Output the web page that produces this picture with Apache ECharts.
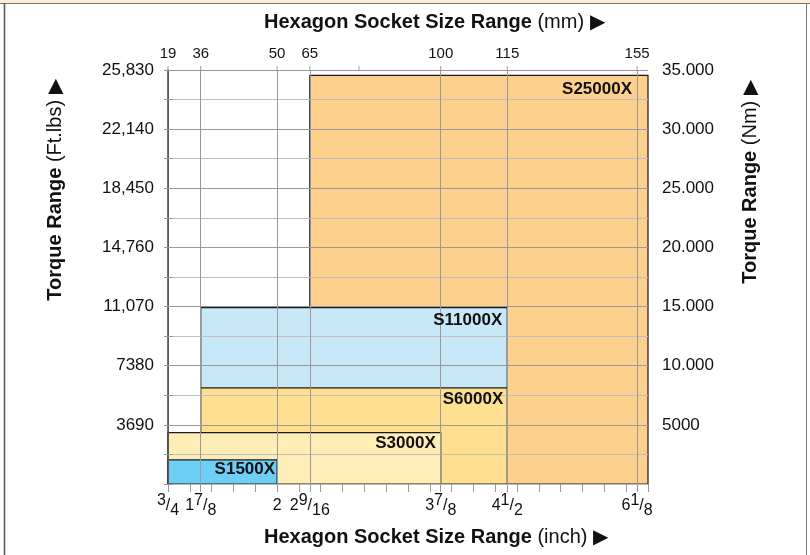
<!DOCTYPE html>
<html>
<head>
<meta charset="utf-8">
<style>
  html, body { margin: 0; padding: 0; background: #fff; }
  #chart { width: 810px; height: 555px; }
</style>
<script src="https://cdn.jsdelivr.net/npm/echarts@6/dist/echarts.min.js"></script>
</head>
<body>
<div id="chart"></div>
<script>
// socket sizes, labelled on the bottom (inch) and top (mm) axes
const sizesInch = ['3/4', '1 7/8', '2', '2 9/16', '3 7/8', '4 1/2', '6 1/8'];
const sizesMm = ['19', '36', '50', '65', '100', '115', '155'];
// where each size sits on the (non-linear) drawn size scale, 0..22
const sizePos = [0, 1.5, 5, 6.5, 12.5, 15.55, 21.5];
const topTickPos = [0, 1.5, 5, 6.5, 8.75, 12.5, 15.55, 21.5];
const sizeMax = 22;

// torque ticks
const ftLbTicks = ['3690', '7380', '11,070', '14,760', '18,450', '22,140', '25,830'];
const nmTicks = ['5000', '10.000', '15.000', '20.000', '25.000', '30.000', '35.000'];
const torqueStep = 3690;
const torqueMax = 25830;

// tool ranges (drawn back to front)
const models = ['S25000X', 'S11000X', 'S6000X', 'S3000X', 'S1500X'];
const fromPos = [6.5, 1.5, 1.5, 0, 0];
const toPos = [22, 15.55, 15.55, 12.5, 5];
const maxTorque = [25500, 11000, 6000, 3200, 1500];

const fills = ['#FDD08E', '#C8E8F8', '#FFE091', '#FFEDB8', '#6DCFF6'];
const labelPadX = [16, 5, 4, 5, 2];
const labelPadY = [14, 13, 11, 11, 9];

const font = 'Liberation Sans';
const myChart = echarts.init(document.getElementById('chart'));

const rangeData = models.map((m, i) => [fromPos[i], toPos[i], maxTorque[i], i]);

const fracLabel = (s) => {
    let whole = '';
    let frac = '';
    if (s.includes(' ')) {
        [whole, frac] = s.split(' ');
    } else if (s.includes('/')) {
        frac = s;
    } else {
        whole = s;
    }
    let out = whole ? '{n|' + whole + '}' : '';
    if (frac) {
        const [num, den] = frac.split('/');
        out += '{u|' + num + '}{n|/}{d|' + den + '}';
    }
    return out;
};

const posIndex = (v) => sizePos.findIndex((p) => Math.abs(p - v) < 1e-6);

const option = {
    animation: false,
    textStyle: { fontFamily: font },
    grid: { left: 168, right: 162, top: 70, bottom: 71, containLabel: false, outerBoundsMode: 'none' },
    xAxis: [
        {
            type: 'value', position: 'bottom', min: 0, max: sizeMax, z: 3,
            axisLine: { show: true, lineStyle: { color: '#222', width: 1 } },
            axisTick: { show: true, customValues: sizePos, length: 8, lineStyle: { color: '#999' } },
            axisLabel: {
                customValues: sizePos, margin: 9, color: '#111',
                formatter: (v) => { const i = posIndex(v); return i < 0 ? '' : fracLabel(sizesInch[i]); },
                rich: {
                    n: { fontSize: 16, lineHeight: 26, verticalAlign: 'middle', color: '#111', fontFamily: font },
                    u: { fontSize: 16, lineHeight: 18, verticalAlign: 'top', color: '#111', fontFamily: font },
                    d: { fontSize: 16, lineHeight: 18, verticalAlign: 'bottom', color: '#111', fontFamily: font }
                }
            },
            splitLine: { show: true, lineStyle: { color: '#999', width: 1 } }
        },
        {
            type: 'value', position: 'top', min: 0, max: sizeMax, z: 3,
            axisLine: { show: true, lineStyle: { color: '#bbb', width: 1 } },
            axisTick: { show: false },
            axisLabel: {
                customValues: sizePos, margin: 9, fontSize: 15, color: '#111',
                formatter: (v) => { const i = posIndex(v); return i < 0 ? '' : sizesMm[i]; }
            },
            splitLine: { show: false }
        },
        {
            type: 'value', position: 'bottom', min: 0, max: sizeMax, interval: 1, z: 3,
            axisLine: { show: false },
            axisTick: { show: true, length: 8, lineStyle: { color: '#999' } },
            axisLabel: { show: false },
            splitLine: { show: false }
        }
    ],
    yAxis: [
        {
            type: 'value', position: 'left', min: 0, max: torqueMax, interval: torqueStep / 2, z: 3,
            axisLine: { show: true, lineStyle: { color: '#444', width: 1.5 } },
            axisTick: { show: true, length: 4, lineStyle: { color: '#999' } },
            axisLabel: {
                margin: 14, fontSize: 17, color: '#111',
                formatter: (v) => (v > 0 && v % torqueStep === 0 ? ftLbTicks[v / torqueStep - 1] : '')
            },
            splitLine: { show: true, lineStyle: { color: ['#999', '#bdbdbd'], width: 1 } }
        },
        {
            type: 'value', position: 'right', min: 0, max: torqueMax, interval: torqueStep / 2, z: 3,
            axisLine: { show: false },
            axisTick: { show: true, length: 5, lineStyle: { color: '#999' } },
            axisLabel: {
                margin: 14, fontSize: 17, color: '#111',
                formatter: (v) => (v > 0 && v % torqueStep === 0 ? nmTicks[v / torqueStep - 1] : '')
            },
            splitLine: { show: false }
        }
    ],
    series: [
        {
            type: 'custom', name: 'ranges', z: 1, xAxisIndex: 0, yAxisIndex: 0,
            encode: { x: [0, 1], y: 2 },
            data: rangeData,
            renderItem: (params, api) => {
                const i = api.value(3);
                const p0 = api.coord([api.value(0), 0]);
                const p1 = api.coord([api.value(1), api.value(2)]);
                return {
                    type: 'rect',
                    shape: { x: p0[0], y: p1[1], width: p1[0] - p0[0], height: p0[1] - p1[1] },
                    style: { fill: fills[i], stroke: '#1a1a1a', lineWidth: 1.2 }
                };
            }
        },
        {
            type: 'custom', name: 'labels', z: 6, xAxisIndex: 0, yAxisIndex: 0,
            encode: { x: [0, 1], y: 2 },
            data: rangeData,
            renderItem: (params, api) => {
                const i = api.value(3);
                const p1 = api.coord([api.value(1), api.value(2)]);
                return {
                    type: 'text',
                    x: p1[0] - labelPadX[i],
                    y: p1[1] + labelPadY[i],
                    style: {
                        text: models[i], align: 'right', verticalAlign: 'middle',
                        fontSize: 17, fontWeight: 'bold', fontFamily: font, fill: '#111'
                    }
                };
            }
        },
        {
            // short ticks above the plot on the mm axis
            type: 'custom', name: 'topTicks', z: 4, xAxisIndex: 0, yAxisIndex: 0, clip: false,
            encode: { x: 0 },
            data: topTickPos.map((p) => [p]),
            renderItem: (params, api) => {
                const p = api.coord([api.value(0), torqueMax]);
                return {
                    type: 'line',
                    shape: { x1: p[0], y1: p[1] - 4, x2: p[0], y2: p[1] },
                    style: { stroke: '#999', lineWidth: 1 }
                };
            }
        }
    ],
    graphic: [
        { type: 'rect', shape: { x: 0, y: 0, width: 810, height: 3 }, style: { fill: '#FDEFD3' } },
        { type: 'line', shape: { x1: 0, y1: 3.5, x2: 810, y2: 3.5 }, style: { stroke: '#777', lineWidth: 1 } },
        { type: 'line', shape: { x1: 4.5, y1: 3, x2: 4.5, y2: 555 }, style: { stroke: '#555', lineWidth: 1.5 } },
        { type: 'line', shape: { x1: 806.5, y1: 3, x2: 806.5, y2: 555 }, style: { stroke: '#777', lineWidth: 1 } },
        {
            type: 'text', x: 264, y: 22,
            style: {
                text: '{b|Hexagon Socket Size Range} (mm) ▶', verticalAlign: 'middle',
                fontSize: 20, fontFamily: font, fill: '#111',
                rich: { b: { fontSize: 20, fontWeight: 'bold', fontFamily: font, fill: '#111' } }
            }
        },
        {
            type: 'text', x: 264, y: 537,
            style: {
                text: '{b|Hexagon Socket Size Range} (inch) ▶', verticalAlign: 'middle',
                fontSize: 20, fontFamily: font, fill: '#111',
                rich: { b: { fontSize: 20, fontWeight: 'bold', fontFamily: font, fill: '#111' } }
            }
        },
        {
            type: 'text', x: 55, y: 190, rotation: Math.PI / 2,
            style: {
                text: '{b|Torque Range} (Ft.lbs) ▶', align: 'center', verticalAlign: 'middle',
                fontSize: 20, fontFamily: font, fill: '#111',
                rich: { b: { fontSize: 20, fontWeight: 'bold', fontFamily: font, fill: '#111' } }
            }
        },
        {
            type: 'text', x: 750, y: 182, rotation: Math.PI / 2,
            style: {
                text: '{b|Torque Range} (Nm) ▶', align: 'center', verticalAlign: 'middle',
                fontSize: 20, fontFamily: font, fill: '#111',
                rich: { b: { fontSize: 20, fontWeight: 'bold', fontFamily: font, fill: '#111' } }
            }
        }
    ]
};

myChart.setOption(option);
</script>
</body>
</html>
